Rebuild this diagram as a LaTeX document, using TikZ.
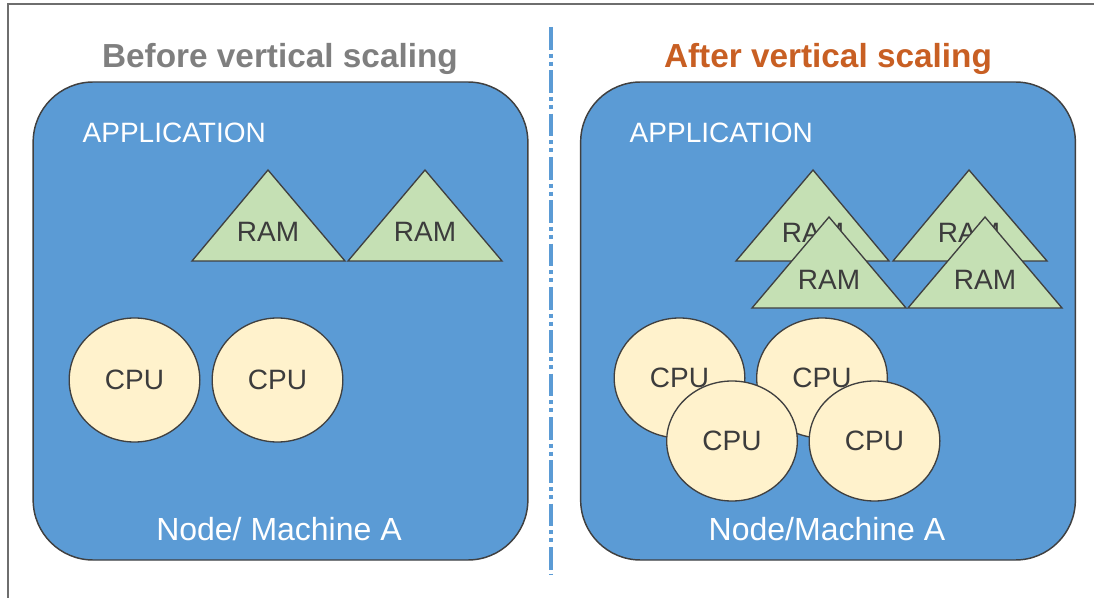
\documentclass[tikz,border=0pt]{standalone}
\usepackage{fontspec}
\setmainfont{Liberation Sans}
\usetikzlibrary{shapes.geometric,positioning}
\definecolor{appblue}{RGB}{91,155,213}
\definecolor{edgegray}{RGB}{64,64,64}
\definecolor{ramgreen}{RGB}{197,224,180}
\definecolor{cpucream}{RGB}{255,242,204}
\definecolor{titlegray}{RGB}{127,127,127}
\definecolor{titleorange}{RGB}{200,95,35}
\definecolor{labeldark}{RGB}{60,60,60}
\definecolor{framegray}{RGB}{110,110,110}
\tikzset{
  machinebox/.style={rectangle,rounded corners=45pt,draw=edgegray,line width=1.1pt,fill=appblue,
                     minimum width=371pt,minimum height=358.5pt,inner sep=0pt},
  titletext/.style={anchor=base,font=\fontsize{25}{29}\selectfont\bfseries},
  apptext/.style={anchor=base west,text=white,font=\fontsize{21}{25}\selectfont},
  machinetext/.style={anchor=base,text=white,font=\fontsize{24}{28}\selectfont},
  ramshape/.style={draw=edgegray,fill=ramgreen,line width=1pt},
  ramtext/.style={anchor=base,text=labeldark,font=\fontsize{21}{25}\selectfont},
  cpunode/.style={ellipse,draw=edgegray,fill=cpucream,line width=1pt,inner sep=0pt,
                  minimum width=98pt,minimum height=91pt,text=labeldark,font=\fontsize{21}{25}\selectfont},
  splitline/.style={appblue,line width=3pt,dash pattern=on 17pt off 3pt on 3pt off 3pt on 3pt off 3.5pt}
}

\begin{document}
\begin{tikzpicture}[x=0.75pt,y=-0.75pt]
  \useasboundingbox (0,0) rectangle (1094,598);

  % frame and divider
  \coordinate (frametl) at (8,4);
  \coordinate (frametr) at (1094,4);
  \coordinate (framebl) at (8,598);
  \draw[framegray,line width=1.2pt] (framebl) -- (frametl) -- (frametr);
  \coordinate (splittop) at (551,27);
  \coordinate (splitbot) at (551,575);
  \draw[splitline] (splittop) -- (splitbot);

  % titles
  \node[titletext,text=titlegray] (titlebefore) at (280,68) {Before vertical scaling};
  \node[titletext,text=titleorange] (titleafter) at (828,68) {After vertical scaling};

  % machines
  \node[machinebox] (machineL) at (280.5,321) {};
  \node[machinebox] (machineR) at (828,321) {};
  \node[apptext] (appL) at (78,143) {APPLICATION};
  \node[apptext] (appR) at (625,143) {APPLICATION};
  \node[machinetext] (nameL) at (279,540) {Node/ Machine A};
  \node[machinetext] (nameR) at (827,540) {Node/Machine A};

  % before: RAM and CPU
  \draw[ramshape] (268,170) -- (345,261) -- (192,261) -- cycle;
  \node[ramtext] (ramL1) at (268,242) {RAM};
  \draw[ramshape] (425,170) -- (502,261) -- (348,261) -- cycle;
  \node[ramtext] (ramL2) at (425,242) {RAM};
  \node[cpunode,minimum height=93pt] (cpuL1) at (134.5,380) {CPU};
  \node[cpunode,minimum height=93pt] (cpuL2) at (277.5,380) {CPU};

  % after: RAM, back row then front row
  \draw[ramshape] (813,170) -- (889,261) -- (736,261) -- cycle;
  \node[ramtext] (ramR1) at (813,243) {RAM};
  \draw[ramshape] (969,170) -- (1047,261) -- (893,261) -- cycle;
  \node[ramtext] (ramR2) at (969,243) {RAM};
  \draw[ramshape] (829,217) -- (906,308) -- (752,308) -- cycle;
  \node[ramtext] (ramR3) at (829,290) {RAM};
  \draw[ramshape] (985,217) -- (1062,308) -- (908,308) -- cycle;
  \node[ramtext] (ramR4) at (985,290) {RAM};

  % after: CPU, back row then front row
  \node[cpunode,minimum height=90pt] (cpuR1) at (679.5,378) {CPU};
  \node[cpunode,minimum height=90pt] (cpuR2) at (822,378) {CPU};
  \node[cpunode,minimum height=90pt] (cpuR3) at (732,441) {CPU};
  \node[cpunode,minimum height=90pt] (cpuR4) at (874.5,441) {CPU};
\end{tikzpicture}
\end{document}
